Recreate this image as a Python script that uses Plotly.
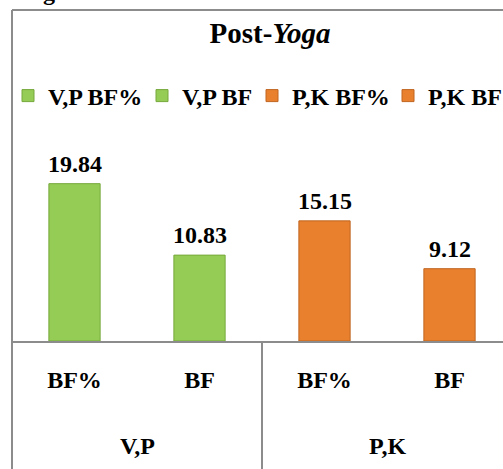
import plotly.graph_objects as go

# Post-yoga body fat measurements, by group
groups = ["V,P", "V,P", "P,K", "P,K"]
measures = ["BF%", "BF", "BF%", "BF"]
series = ["V,P BF%", "V,P BF", "P,K BF%", "P,K BF"]
values = [19.84, 10.83, 15.15, 9.12]
group_names = ["V,P", "P,K"]

GREEN = "#95cc55"
ORANGE = "#e8802e"
colors = [GREEN, GREEN, ORANGE, ORANGE]
edges = ["#76a83c", "#76a83c", "#c0651f", "#c0651f"]
# per-entry legend widths so the four entries sit on a single row
legend_widths = [89, 65, 91, 70]
GRID = "#8c8c8c"
FONT = "Liberation Serif, Times New Roman, Times, serif"
LABEL_FONT = dict(family=FONT, size=24, color="black", weight="bold")

W, H = 503, 469
ML, MT, MB = 12, 10, 128
plot_h = H - MT - MB

fig = go.Figure()
for name, val, col, edge, lw in zip(series, values, colors, edges, legend_widths):
    fig.add_trace(go.Bar(
        x=[name], y=[val], name=name,
        marker=dict(color=col, line=dict(color=edge, width=1)),
        width=0.41,
        legendwidth=lw,
        hovertemplate="%{x}: %{y:.2f}<extra></extra>",
    ))
    # value label above the bar
    fig.add_annotation(
        x=name, xref="x", y=val, yref="y", text=f"{val:.2f}",
        showarrow=False, yanchor="middle", yshift=20, font=LABEL_FONT,
    )

# group labels centred under each pair of bars
for i, g in enumerate(group_names):
    fig.add_annotation(
        x=2 * i + 0.5, xref="x", y=-(446 - (H - MB)) / plot_h, yref="paper",
        text=g, showarrow=False, yanchor="middle", font=LABEL_FONT,
    )

# fragment of caption text above the chart frame
fig.add_annotation(
    x=(41 - ML) / (W - ML), xref="paper", y=1 + (MT + 8) / plot_h, yref="paper",
    text="g", showarrow=False, yanchor="middle", font=LABEL_FONT,
)

shapes = [
    # chart frame: left and top edges
    dict(type="line", xref="paper", yref="paper", x0=0, x1=0,
         y0=-MB / plot_h, y1=1, line=dict(color=GRID, width=2)),
    dict(type="line", xref="paper", yref="paper", x0=0, x1=1.1,
         y0=1, y1=1, line=dict(color=GRID, width=2)),
    # divider between the two groups
    dict(type="line", xref="x", yref="paper", x0=1.5, x1=1.5,
         y0=0, y1=-MB / plot_h, line=dict(color=GRID, width=2)),
]

fig.update_layout(
    width=W, height=H,
    margin=dict(l=ML, r=0, t=MT, b=MB),
    paper_bgcolor="white", plot_bgcolor="white",
    barmode="relative",
    showlegend=True,
    title=dict(
        text="Post-<i>Yoga</i>", x=270 / W, xanchor="center",
        y=1 - 33 / H, yanchor="middle", yref="container",
        font=dict(family=FONT, size=29, color="black", weight="bold"),
    ),
    legend=dict(
        orientation="h", x=0, xanchor="left", y=(H - MB - 96) / plot_h,
        yanchor="middle", bgcolor="rgba(0,0,0,0)",
        font=LABEL_FONT,
        traceorder="normal",
    ),
    xaxis=dict(
        type="category", categoryorder="array", categoryarray=series,
        tickvals=series, ticktext=measures,
        range=[-0.5, (W - ML) / 125 - 0.5],
        showline=True, linecolor=GRID, linewidth=2,
        ticks="", ticklabelstandoff=16, showgrid=False,
        tickfont=LABEL_FONT,
    ),
    yaxis=dict(range=[0, plot_h / 7.93], visible=False, showgrid=False),
    shapes=shapes,
)

fig.write_html("out.html")
